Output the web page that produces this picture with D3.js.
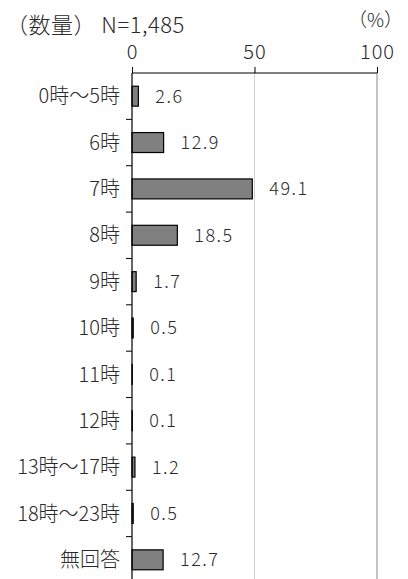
<!DOCTYPE html>
<html><head><meta charset="utf-8">
<script src="https://cdn.jsdelivr.net/npm/d3@7"></script>
<style>body{margin:0;background:#fff;} text{font-family:"Noto Sans CJK JP","Noto Sans",sans-serif;fill:#2a2a2a;font-weight:300;}</style>
</head><body>
<svg id="c" width="408" height="579"></svg>
<script>
const categories = ["0時～5時","6時","7時","8時","9時","10時","11時","12時","13時～17時","18時～23時","無回答"];
const values = [2.6,12.9,49.1,18.5,1.7,0.5,0.1,0.1,1.2,0.5,12.7];
const xTicks = [0,50,100];
const title = "（数量） N=1,485";
const unit = "（%）";

const svg = d3.select("#c");
const x = d3.scaleLinear().domain([0,100]).range([132,377]);
const y = d3.scaleBand().domain(categories).range([73,583]).paddingInner(0.57).paddingOuter(0.285);
const yb = d3.scaleBand().domain(categories).range([73,583]);

// gridlines
svg.selectAll("line.grid").data(xTicks.slice(1)).enter().append("line")
  .attr("x1",d=>x(d)).attr("x2",d=>x(d)).attr("y1",73).attr("y2",579)
  .attr("stroke",(d,i)=>i===0?"#d0d0d0":"#888").attr("stroke-width",1);

// top axis
const ax = svg.append("g").attr("transform","translate(0,73)")
  .call(d3.axisTop(x).tickValues(xTicks).tickSize(6).tickPadding(8));
ax.select(".domain").attr("stroke","#000").attr("d",`M${x(0)},0H${x(100)}`);
ax.selectAll(".tick line").attr("stroke","#000");
ax.selectAll(".tick text").attr("font-size",20).attr("fill","#2a2a2a")
  .attr("letter-spacing",1)
  .style("font-family","'Noto Sans CJK JP',sans-serif").style("font-weight",300);

// bars
svg.selectAll("rect.bar").data(values).enter().append("rect")
  .attr("x",x(0)).attr("y",(d,i)=>y(categories[i]))
  .attr("width",d=>x(d)-x(0)).attr("height",y.bandwidth())
  .attr("fill","#808080").attr("stroke","#000").attr("stroke-width",1.2);

// left axis
const ay = svg.append("g").attr("transform",`translate(${x(0)},0)`);
ay.append("line").attr("x1",0).attr("x2",0).attr("y1",73).attr("y2",579).attr("stroke","#000").attr("stroke-width",1.2);
ay.selectAll("line.t").data(categories.slice(1)).enter().append("line")
  .attr("x1",-6).attr("x2",0).attr("y1",d=>yb(d)).attr("y2",d=>yb(d)).attr("stroke","#000");

// category labels
svg.selectAll("text.cat").data(categories).enter().append("text")
  .attr("x",120).attr("y",d=>yb(d)+yb.bandwidth()/2).attr("dy","0.36em")
  .attr("text-anchor","end").attr("font-size",20).text(d=>d);

// value labels
svg.selectAll("text.val").data(values).enter().append("text")
  .attr("x",d=>x(d)+17).attr("y",(d,i)=>yb(categories[i])+yb.bandwidth()/2).attr("dy","0.36em")
  .attr("font-size",18).attr("letter-spacing",1.5).text(d=>d.toFixed(1));

svg.append("text").attr("x",6).attr("y",33).attr("font-size",22).attr("letter-spacing",0.5).text(title);
svg.append("text").attr("x",403).attr("y",27).attr("text-anchor","end").attr("font-size",19).text(unit);
</script>
</body></html>
